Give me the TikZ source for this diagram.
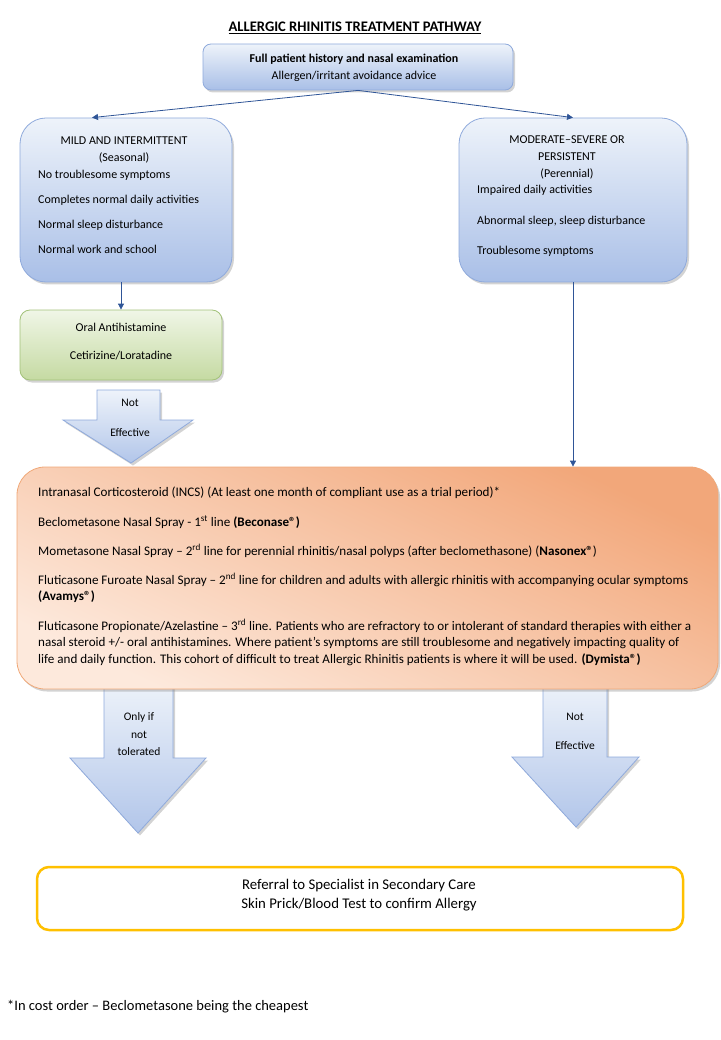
\documentclass[tikz,border=0pt]{standalone}
\usepackage{fontspec}
\setmainfont{Carlito}
\usetikzlibrary{shadows,arrows.meta,calc}

\definecolor{bluetop}{HTML}{EEF3FA}
\definecolor{bluebot}{HTML}{A9BFE7}
\definecolor{blueline}{HTML}{8FAADC}
\definecolor{greentop}{HTML}{F0F6E7}
\definecolor{greenbot}{HTML}{C5DAA2}
\definecolor{greenline}{HTML}{A3C27A}
\definecolor{orangetop}{HTML}{F2A77A}
\definecolor{orangebot}{HTML}{FDE9DC}
\definecolor{orangeline}{HTML}{F0A878}
\definecolor{goldline}{HTML}{FFC000}
\definecolor{linkblue}{HTML}{2F5597}

\begin{document}
\begin{tikzpicture}[x=1pt,y=-1pt]
    % `bluebox' is used for the history box and the two severity boxes.
    % `greenbox' is the antihistamine step, `orangebox' the INCS step.
    % `blockarrow' is used for the big hollow arrows between the steps.
    \tikzstyle{shade} = [drop shadow={opacity=0.35,shadow xshift=2pt,shadow yshift=-2.5pt}]
    \tikzstyle{bluebox} = [draw=blueline,thick,top color=bluetop,bottom color=bluebot,shade]
    \tikzstyle{greenbox} = [draw=greenline,thick,top color=greentop,bottom color=greenbot,rounded corners=10pt,shade]
    \tikzstyle{orangebox} = [draw=orangeline,thick,top color=orangetop,bottom color=orangebot,shading angle=-25,rounded corners=28pt,shade]
    \tikzstyle{referral} = [draw=goldline,line width=2.5pt,fill=white,rounded corners=12pt]
    \tikzstyle{blockarrow} = [draw=blueline,thick,top color=bluetop,bottom color=bluebot!90,shade]
    \tikzstyle{txt} = [inner sep=0pt,font=\fontsize{12}{14}\selectfont]
    \tikzstyle{item} = [txt,anchor=west]
    \tikzstyle{arrowtxt} = [inner sep=0pt,font=\fontsize{11.5}{13}\selectfont]
    \tikzstyle{incstxt} = [inner sep=0pt,anchor=west,font=\fontsize{13.1}{15}\selectfont]
    \tikzstyle{link} = [draw=linkblue,thick,-{Triangle[length=6pt,width=6pt]}]
    %
    \useasboundingbox (0,0) rectangle (720,1040);
    \node[inner sep=0pt,font=\fontsize{14.6}{16}\selectfont\bfseries] (title) at (355,28)
        {\underline{ALLERGIC RHINITIS TREATMENT PATHWAY}};
    %
    % Top box.
    \node[bluebox,rounded corners=8pt,minimum width=310pt,minimum height=46pt] (history) at (358,67) {};
    \node[txt,font=\fontsize{12}{14}\selectfont\bfseries] (hist1) at (354,59) {Full patient history and nasal examination};
    \node[txt] (hist2) at (354,76) {Allergen/irritant avoidance advice};
    %
    % Mild box.
    \node[bluebox,rounded corners=26pt,minimum width=212pt,minimum height=164pt] (mild) at (126,200) {};
    \node[txt] (mildhead) at (124,141) {MILD AND INTERMITTENT};
    \node[txt] (mildsub) at (124,158) {(Seasonal)};
    \node[item] (mild1) at (38,175) {No troublesome symptoms};
    \node[item] (mild2) at (38,200) {Completes normal daily activities};
    \node[item] (mild3) at (38,225) {Normal sleep disturbance};
    \node[item] (mild4) at (38,249) {Normal work and school};
    %
    % Moderate-severe box.
    \node[bluebox,rounded corners=26pt,minimum width=228pt,minimum height=164pt] (severe) at (573,200) {};
    \node[txt] (severehead) at (567,140) {MODERATE–SEVERE OR};
    \node[txt] (severehead2) at (567,157) {PERSISTENT};
    \node[txt] (severesub) at (567,174) {(Perennial)};
    \node[item] (severe1) at (477,190) {Impaired daily activities};
    \node[item] (severe2) at (477,221) {Abnormal sleep, sleep disturbance};
    \node[item] (severe3) at (477,251) {Troublesome symptoms};
    %
    % Oral antihistamine box.
    \node[greenbox,minimum width=202pt,minimum height=70pt] (oral) at (121,345) {};
    \node[txt] (oral1) at (121,327) {Oral Antihistamine};
    \node[txt] (oral2) at (121,356) {Cetirizine/Loratadine};
    %
    % First block arrow.
    \path[blockarrow] (97,390) -- (160,390) -- (160,420) -- (193,420) -- (131,463)
        -- (63,420) -- (97,420) -- cycle;
    \node[arrowtxt] (noteff1) at (130,403) {Not};
    \node[arrowtxt] (noteff2) at (130,433) {Effective};
    %
    % Bottom block arrows (drawn before the INCS box, which covers their tops).
    \path[blockarrow] (104,680) -- (173,680) -- (173,758) -- (206,758) -- (138,833)
        -- (70,758) -- (104,758) -- cycle;
    \path[blockarrow] (543,680) -- (607,680) -- (607,757) -- (639,757) -- (576,827)
        -- (512,757) -- (543,757) -- cycle;
    %
    % INCS box.
    \node[orangebox,minimum width=701pt,minimum height=222pt] (incs) at (367.5,578) {};
    \node[incstxt] (incs1) at (38,493) {Intranasal Corticosteroid (INCS) (At least one month of compliant use as a trial period)*};
    \node[incstxt] (incs2) at (38,522) {Beclometasone Nasal Spray - 1\textsuperscript{st} line \textbf{(Beconase®)}};
    \node[incstxt] (incs3) at (38,551) {Mometasone Nasal Spray – 2\textsuperscript{rd} line for perennial rhinitis/nasal polyps (after beclomethasone) (\textbf{Nasonex®})};
    \node[incstxt] (incs4) at (38,580) {Fluticasone Furoate Nasal Spray – 2\textsuperscript{nd} line for children and adults with allergic rhinitis with accompanying ocular symptoms};
    \node[incstxt] (incs5) at (38,597) {\textbf{(Avamys®)}};
    \node[incstxt] (incs6) at (38,626) {Fluticasone Propionate/Azelastine – 3\textsuperscript{rd} line. Patients who are refractory to or intolerant of standard therapies with either a};
    \node[incstxt] (incs7) at (38,643) {nasal steroid +/- oral antihistamines. Where patient’s symptoms are still troublesome and negatively impacting quality of};
    \node[incstxt] (incs8) at (38,660) {life and daily function. This cohort of difficult to treat Allergic Rhinitis patients is where it will be used. \textbf{(Dymista®)}};
    %
    \node[arrowtxt] (only1) at (139,717) {Only if};
    \node[arrowtxt] (only2) at (139,735) {not};
    \node[arrowtxt] (only3) at (139,752) {tolerated};
    \node[arrowtxt] (noteff3) at (575,717) {Not};
    \node[arrowtxt] (noteff4) at (575,746) {Effective};
    %
    % Referral box.
    \node[referral,minimum width=646pt,minimum height=63pt] (referral) at (360,898.5) {};
    \node[txt,font=\fontsize{14.8}{16}\selectfont] (ref1) at (359,886) {Referral to Specialist in Secondary Care};
    \node[txt,font=\fontsize{14.8}{16}\selectfont] (ref2) at (359,905) {Skin Prick/Blood Test to confirm Allergy};
    %
    \node[item,font=\fontsize{14.5}{16}\selectfont] (footnote) at (7,1007) {*In cost order – Beclometasone being the cheapest};
    %
    % Draw connectors.
    \draw[link] (history.south) -- ([xshift=-34pt]mild.north);
    \draw[link] (history.south) -- (severe.north);
    \draw[link] (oral.north |- mild.south) -- (oral.north);
    \draw[link] (severe.south) -- (severe.south |- incs.north);
\end{tikzpicture}
\end{document}
